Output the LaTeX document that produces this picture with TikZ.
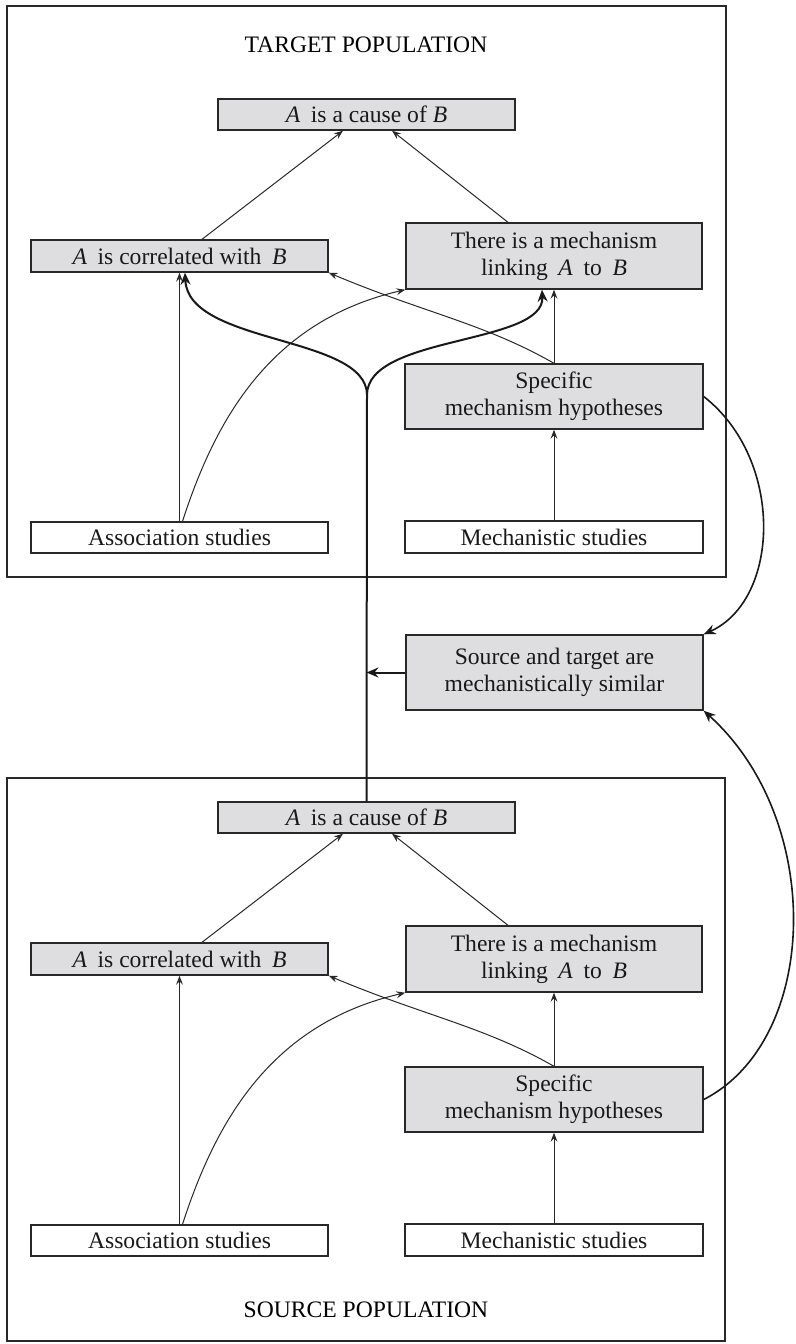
\documentclass[tikz,border=0pt]{standalone}
\usepackage{fontspec}
\setmainfont{Liberation Serif}
\usetikzlibrary{arrows.meta}
\definecolor{boxfill}{RGB}{222,222,224}
\definecolor{ln}{RGB}{40,40,40}
\newcommand{\gapA}{\hspace{0.45em}}
\begin{document}
\begin{tikzpicture}[x=0.5pt,y=-0.5pt,
  font=\fontsize{11.8}{13.5}\selectfont,
  gbox/.style={draw=ln, line width=0.7pt, fill=boxfill, align=center, inner sep=0pt, text=black!90},
  wbox/.style={draw=ln, line width=0.7pt, fill=white, align=center, inner sep=0pt, text=black!90},
  framebox/.style={draw=ln, line width=0.7pt},
  tarrow/.style={draw=ln, line width=0.5pt, -{Stealth[length=4.5pt,width=3.4pt,inset=1.6pt]}},
  karrow/.style={draw=black!90, line width=1pt, -{Stealth[length=6pt,width=5pt,inset=2pt]}},
  kline/.style={draw=black!90, line width=1pt}]
\useasboundingbox (0,0) rectangle (796,1344);
% frames
\draw[framebox] (7,6) rectangle (726,577);
\draw[framebox] (7,778) rectangle (725,1341);
\node (tlabel) at (366,45) {TARGET POPULATION};
\node (slabel) at (366,1310) {SOURCE POPULATION};
% target nodes
\node[gbox, minimum width=148.5pt, minimum height=15.5pt] (causeT) at (366.5,114.5) {\textit{A}\gapA is a cause of \textit{B}};
\node[gbox, minimum width=148.5pt, minimum height=16pt] (corrT) at (179.5,256) {\textit{A}\gapA is correlated with\gapA\textit{B}};
\node[gbox, minimum width=148pt, minimum height=33pt] (mechT) at (554,256) {There is a mechanism\\linking\gapA\textit{A}\gapA to\gapA\textit{B}};
\node[gbox, minimum width=149pt, minimum height=32.5pt] (specT) at (554,396.5) {Specific\\mechanism hypotheses};
\node[wbox, minimum width=148.5pt, minimum height=15.5pt] (assocT) at (179.5,537.5) {Association studies};
\node[wbox, minimum width=149pt, minimum height=16pt] (mstT) at (554,537) {Mechanistic studies};
% similarity node
\node[gbox, minimum width=148.5pt, minimum height=37.5pt] (sim) at (554.5,672.5) {Source and target are\\mechanistically similar};
% source nodes
\node[gbox, minimum width=148.5pt, minimum height=15.5pt] (causeS) at (366.5,817.5) {\textit{A}\gapA is a cause of \textit{B}};
\node[gbox, minimum width=148.5pt, minimum height=16pt] (corrS) at (179.5,959) {\textit{A}\gapA is correlated with\gapA\textit{B}};
\node[gbox, minimum width=148pt, minimum height=33pt] (mechS) at (554,959) {There is a mechanism\\linking\gapA\textit{A}\gapA to\gapA\textit{B}};
\node[gbox, minimum width=149pt, minimum height=32.5pt] (specS) at (554,1099.5) {Specific\\mechanism hypotheses};
\node[wbox, minimum width=148.5pt, minimum height=15.5pt] (assocS) at (179.5,1240.5) {Association studies};
\node[wbox, minimum width=149pt, minimum height=16pt] (mstS) at (554,1240) {Mechanistic studies};
% target connectors
\draw[tarrow] ([xshift=11.25pt]corrT.north) -- ([xshift=-11.75pt]causeT.south);
\draw[tarrow] ([xshift=-23pt]mechT.north) -- ([xshift=12.75pt]causeT.south);
\draw[tarrow] (assocT.north) -- (corrT.south);
\draw[tarrow] ([xshift=1.5pt]assocT.north) .. controls +(33,-102) and +(-135,31) .. (mechT.south west);
\draw[tarrow] (mstT.north) -- (specT.south);
\draw[tarrow] (specT.north) -- (mechT.south);
\draw[tarrow] (specT.north) .. controls +(-70,-40) and +(95,40) .. (corrT.south east);
% source connectors
\draw[tarrow] ([xshift=11.25pt]corrS.north) -- ([xshift=-11.75pt]causeS.south);
\draw[tarrow] ([xshift=-23pt]mechS.north) -- ([xshift=12.75pt]causeS.south);
\draw[tarrow] (assocS.north) -- (corrS.south);
\draw[tarrow] ([xshift=1.5pt]assocS.north) .. controls +(33,-102) and +(-135,31) .. (mechS.south west);
\draw[tarrow] (mstS.north) -- (specS.south);
\draw[tarrow] (specS.north) -- (mechS.south);
\draw[tarrow] (specS.north) .. controls +(-70,-40) and +(95,40) .. (corrS.south east);
% thick fork from source cause to target
\coordinate (fork) at (367,395);
\draw[kline] (causeS.north) -- (fork);
\draw[karrow] (fork) .. controls (367,335) and (188,345) .. ([xshift=2.75pt]corrT.south);
\draw[karrow] (fork) .. controls (367,335) and (545,345) .. ([xshift=-6pt]mechT.south);
\draw[karrow] (sim.west) -- (causeS.north |- sim.west);
% similarity arcs
\draw[karrow, line width=0.8pt] (specT.east) .. controls (785,460) and (780,600) .. (sim.north east);
\draw[karrow, line width=0.8pt] (specS.east) .. controls (820,1040) and (825,820) .. (sim.south east);
\end{tikzpicture}
\end{document}
